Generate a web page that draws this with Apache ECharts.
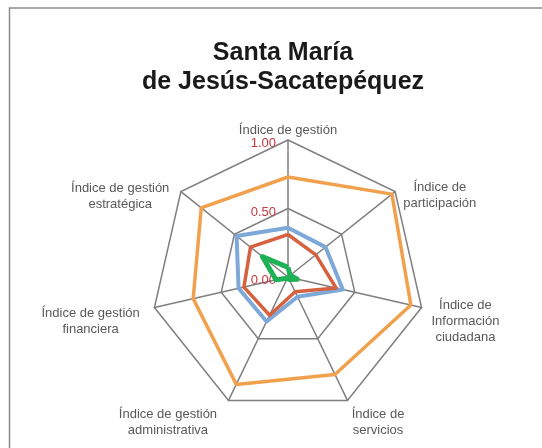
<!DOCTYPE html>
<html>
<head>
<meta charset="utf-8">
<script src="https://cdn.jsdelivr.net/npm/echarts@6/dist/echarts.min.js"></script>
<style>
  html, body { margin: 0; padding: 0; background: #fff; }
</style>
</head>
<body>
<div id="main" style="width: 542px; height: 448px"></div>
<script>
// indicadores en el orden de echarts (antihorario desde arriba)
var indicadores = [
  'Índice de gestión',
  'Índice de gestión\nestratégica',
  'Índice de gestión\nfinanciera',
  'Índice de gestión\nadministrativa',
  'Índice de\nservicios',
  'Índice de\nInformación\nciudadana',
  'Índice de\nparticipación'
];
var ticks = ['0.00', '0.50', '1.00'];

var serieNaranja = [0.73, 0.81, 0.71, 0.87, 0.79, 0.92, 0.97];
var serieAzul = [0.36, 0.48, 0.37, 0.36, 0.16, 0.41, 0.35];
var serieRoja = [0.31, 0.35, 0.33, 0.31, 0.12, 0.36, 0.26];
var serieVerde = [0.07, 0.24, 0.09, 0.01, 0.02, 0.07, 0.02];

// ancho de bloque para centrar las lineas y ajuste de cada etiqueta (estilo, no datos)
var anchos = [100, 96, 96, 100, 56, 76, 80];
var rellenos = [
  [0, 0, 0, 0],
  [18, 8, 0, 0],
  [26, 10, 0, 0],
  [34, 8, 0, 0],
  [34, 0, 0, 0],
  [26, 0, 0, 0],
  [16, 0, 0, 0]
];

var richEstilos = {};
anchos.forEach(function (w) {
  richEstilos['w' + w] = { width: w, align: 'center', fontSize: 13, lineHeight: 16, color: '#595959', fontFamily: 'Liberation Sans' };
});

var chart = echarts.init(document.getElementById('main'));

var option = {
  animation: false,
  title: {
    text: 'Santa María\nde Jesús-Sacatepéquez',
    left: 278,
    top: 34,
    textAlign: 'center',
    textStyle: {
      fontFamily: 'Liberation Sans',
      fontWeight: 'bold',
      fontSize: 25,
      lineHeight: 29,
      color: '#1a1a1a'
    }
  },
  graphic: [{
    type: 'rect',
    shape: { x: 9.5, y: 8, width: 560, height: 470 },
    style: { fill: 'none', stroke: '#8c8c8c', lineWidth: 1.5 },
    silent: true
  }],
  radar: {
    center: [288, 277],
    radius: 137,
    startAngle: 90,
    splitNumber: 2,
    shape: 'polygon',
    indicator: indicadores.map(function (n, i) {
      var ind = { name: n, min: 0, max: 1, nameTextStyle: { padding: rellenos[i] } };
      if (i === 0) {
        ind.axisLabel = { show: true };
        ind.nameGap = 0;
      }
      return ind;
    }),
    axisName: {
      fontFamily: 'Liberation Sans',
      fontSize: 13,
      color: '#595959',
      formatter: function (name) {
        var i = indicadores.indexOf(name);
        var key = 'w' + anchos[i];
        return name.split('\n').map(function (l) { return '{' + key + '|' + l + '}'; }).join('\n');
      },
      rich: richEstilos
    },
    nameGap: 6,
    axisLine: { lineStyle: { color: '#7f7f7f', width: 1.5 } },
    splitLine: { lineStyle: { color: '#7f7f7f', width: 1.5 } },
    splitArea: { show: false },
    axisTick: { show: false },
    axisLabel: {
      show: false,
      color: '#c8373f',
      fontSize: 13,
      fontFamily: 'Liberation Sans',
      margin: 12,
      formatter: function (v) { return '{t|' + ticks[Math.round(v * 2)] + '}'; },
      rich: {
        t: { color: '#c8373f', fontSize: 13, fontFamily: 'Liberation Sans', padding: [7, 0, 0, 0] }
      }
    }
  },
  series: [{
    type: 'radar',
    symbol: 'none',
    data: [
      { value: serieNaranja, lineStyle: { color: '#f1a14d', width: 3.5 } },
      { value: serieAzul, lineStyle: { color: '#7ea8d8', width: 4 } },
      { value: serieRoja, lineStyle: { color: '#d5613f', width: 3.5 } },
      { value: serieVerde, lineStyle: { color: '#1fb155', width: 5 } }
    ]
  }]
};

chart.setOption(option);
</script>
</body>
</html>
